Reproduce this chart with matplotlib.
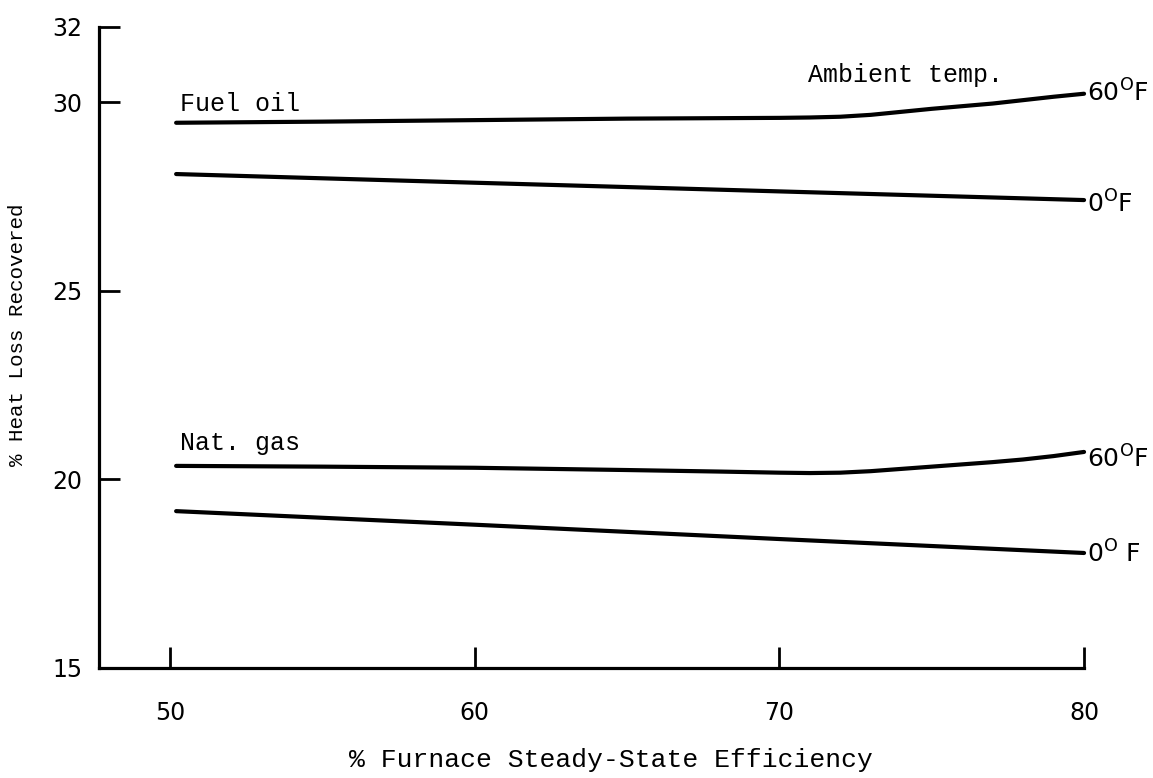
import matplotlib
matplotlib.use("Agg")
import matplotlib.pyplot as plt

# Furnace steady-state efficiency (%) at which each curve was read
eff_fuel_60 = [50.2, 55, 60, 65, 70, 71, 72, 73, 74, 75, 76, 77, 78, 79, 80]
fuel_oil_60F = [29.46, 29.49, 29.53, 29.57, 29.59, 29.60, 29.62, 29.67, 29.75,
                29.83, 29.90, 29.97, 30.06, 30.15, 30.23]

eff_fuel_0 = [50.2, 60, 70, 80]
fuel_oil_0F = [28.10, 27.87, 27.64, 27.41]

eff_gas_60 = [50.2, 55, 60, 65, 68, 70, 71, 72, 73, 74, 75, 76, 77, 78, 79, 80]
nat_gas_60F = [20.36, 20.34, 20.31, 20.25, 20.21, 20.18, 20.17, 20.18, 20.22,
               20.28, 20.34, 20.40, 20.46, 20.53, 20.62, 20.73]

eff_gas_0 = [50.2, 60, 70, 80]
nat_gas_0F = [19.16, 18.80, 18.42, 18.05]

x_ticks = [50, 60, 70, 80]
y_ticks = [15, 20, 25, 30, 32]

mono = "Liberation Mono"
sans = "DejaVu Sans"

fig = plt.figure(figsize=(11.53, 7.78), dpi=100)
ax = fig.add_axes([0.0859, 0.1414, 0.9402 - 0.0859, 0.9653 - 0.1414])

lw = 3.0
for xs, ys in [(eff_fuel_60, fuel_oil_60F), (eff_fuel_0, fuel_oil_0F),
               (eff_gas_60, nat_gas_60F), (eff_gas_0, nat_gas_0F)]:
    ax.plot(xs, ys, color="black", lw=lw, solid_capstyle="round",
            solid_joinstyle="round", clip_on=False)

ax.set_xlim(47.67, 80)
ax.set_ylim(15, 32)

for side in ("top", "right"):
    ax.spines[side].set_visible(False)
for side in ("left", "bottom"):
    ax.spines[side].set_linewidth(2.3)
    ax.spines[side].set_capstyle("projecting")

ax.set_xticks(x_ticks)
ax.set_yticks(y_ticks)
ax.set_xticklabels([str(v) for v in x_ticks], fontfamily=sans, fontsize=17)
ax.set_yticklabels([str(v) for v in y_ticks], fontfamily=sans, fontsize=17)
ax.tick_params(axis="x", direction="in", length=15, width=2.0, pad=24)
ax.tick_params(axis="y", direction="in", length=15, width=2.0, pad=12)
for t in ax.xaxis.get_major_ticks() + ax.yaxis.get_major_ticks():
    t.tick1line.set_clip_on(False)

ax.set_xlabel("% Furnace Steady-State Efficiency", fontfamily=mono, fontsize=19, labelpad=16)
ax.xaxis.label.set_x(0.52)
ax.set_ylabel("% Heat Loss Recovered", fontfamily=mono, fontsize=15, labelpad=18)
ax.yaxis.label.set_y(0.52)

# Fuel / ambient annotations
ax.text(50.33, 29.95, "Fuel oil", fontfamily=mono, fontsize=18, va="center", ha="left")
ax.text(50.33, 20.97, "Nat. gas", fontfamily=mono, fontsize=18, va="center", ha="left")
ax.text(70.94, 30.73, "Ambient temp.", fontfamily=mono, fontsize=18, va="center", ha="left")

# Temperature tags at the right-hand ends of the curves
end_labels = [
    (fuel_oil_60F[-1], r"60$^{\mathrm{O}}$F", -6),
    (fuel_oil_0F[-1], r"0$^{\mathrm{O}}$F", -9),
    (nat_gas_60F[-1], r"60$^{\mathrm{O}}$F", -11),
    (nat_gas_0F[-1], r"0$^{\mathrm{O}}$ F", -7),
]
for y_end, label, dy in end_labels:
    ax.annotate(label, xy=(80, y_end), xytext=(2, dy), textcoords="offset points",
                fontfamily=sans, fontsize=18, ha="left", va="baseline",
                annotation_clip=False)

fig.savefig("out.png", dpi=100)
